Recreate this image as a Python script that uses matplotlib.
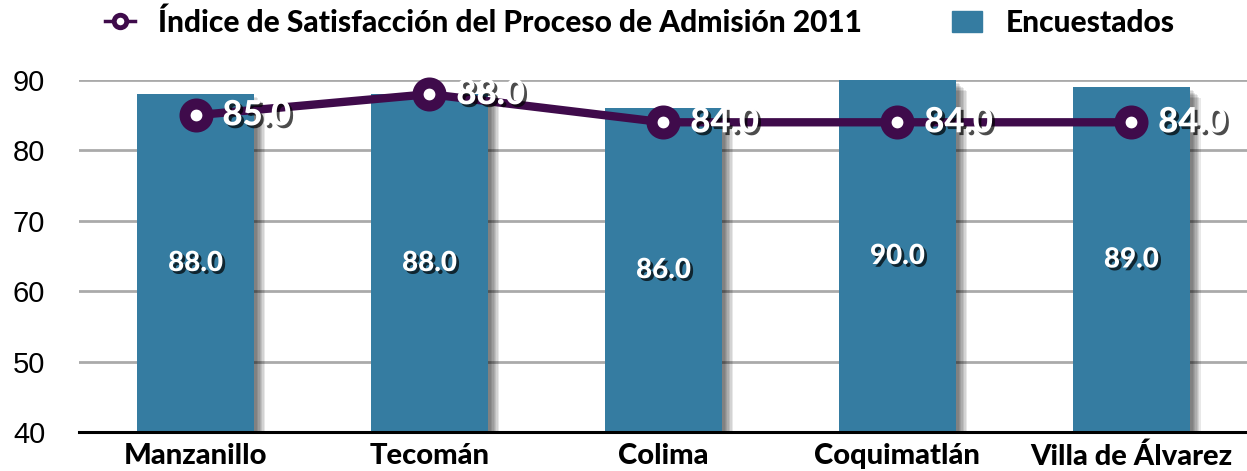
import matplotlib
matplotlib.use("Agg")
import matplotlib.pyplot as plt
import matplotlib.patheffects as pe
from matplotlib.lines import Line2D
from matplotlib.patches import Patch
import numpy as np

campus = ["Manzanillo", "Tecomán", "Colima", "Coquimatlán", "Villa de Álvarez"]
encuestados = [88.0, 88.0, 86.0, 90.0, 89.0]
indice = [85.0, 88.0, 84.0, 84.0, 84.0]
yticks = [40, 50, 60, 70, 80, 90]

bar_color = "#357CA1"
line_color = "#3F0B4B"
bold = {"family": ["Lato", "DejaVu Sans"], "weight": "black"}

fig = plt.figure(figsize=(12.47, 4.71), dpi=100)
ax = fig.add_axes([0.063, 0.083, 0.938, 0.747])

x = np.arange(len(campus))
# soft shadow: stack of faint offset copies
bar_fx = [pe.SimplePatchShadow(offset=(d, -d), shadow_rgbFace="black", alpha=0.09)
          for d in (8, 7, 6, 5, 4, 3, 2)] + [pe.Normal()]
ax.bar(x, np.array(encuestados) - 40, bottom=40, width=0.5, color=bar_color, zorder=2,
       path_effects=bar_fx)

shadow_txt = [pe.withSimplePatchShadow(offset=(2, -2), shadow_rgbFace="black", alpha=0.7)]
for xi, v in zip(x, encuestados):
    ax.text(xi, (v + 40) / 2, f"{v:.1f}", ha="center", va="center", color="white",
            fontsize=20, path_effects=shadow_txt, zorder=4, **bold)

ax.plot(x, indice, color=line_color, lw=6, marker="o", ms=16.5, mew=8,
        mfc="white", mec=line_color, zorder=5, clip_on=False)
for xi, v in zip(x, indice):
    ax.text(xi + 0.115, v, f"{v:.1f}", ha="left", va="center", color="white",
            fontsize=25, path_effects=shadow_txt, zorder=6, **bold)

ax.set_xlim(-0.5, 4.5)
ax.set_ylim(40, 90)
ax.set_yticks(yticks)
ax.set_xticks(x)
ax.set_xticklabels(campus, fontsize=21, **bold)
ax.tick_params(axis="y", labelsize=21, length=0, pad=24)
ax.tick_params(axis="x", length=0, pad=8)
for lbl in ax.get_yticklabels():
    lbl.set_family(["Liberation Sans", "DejaVu Sans"])
ax.yaxis.grid(True, color="#AAAAAA", lw=2, zorder=0)
ax.set_axisbelow(True)
for s in ["top", "right", "left"]:
    ax.spines[s].set_visible(False)
ax.spines["bottom"].set_linewidth(2.2)
ax.spines["bottom"].set_zorder(3)

handles = [Line2D([], [], color=line_color, lw=2.5, marker="o", ms=9, mew=3.5, mfc="white", mec=line_color),
           Patch(color=bar_color)]
fig.legend(handles, ["Índice de Satisfacción del Proceso de Admisión 2011", "Encuestados"],
           loc="center", bbox_to_anchor=(0.513, 0.952), ncol=2, frameon=False,
           prop={"family": ["Lato", "DejaVu Sans"], "weight": "black", "size": 21.5},
           handlelength=1.0, columnspacing=3.0, handletextpad=0.8)

fig.savefig("out.png", dpi=100)
